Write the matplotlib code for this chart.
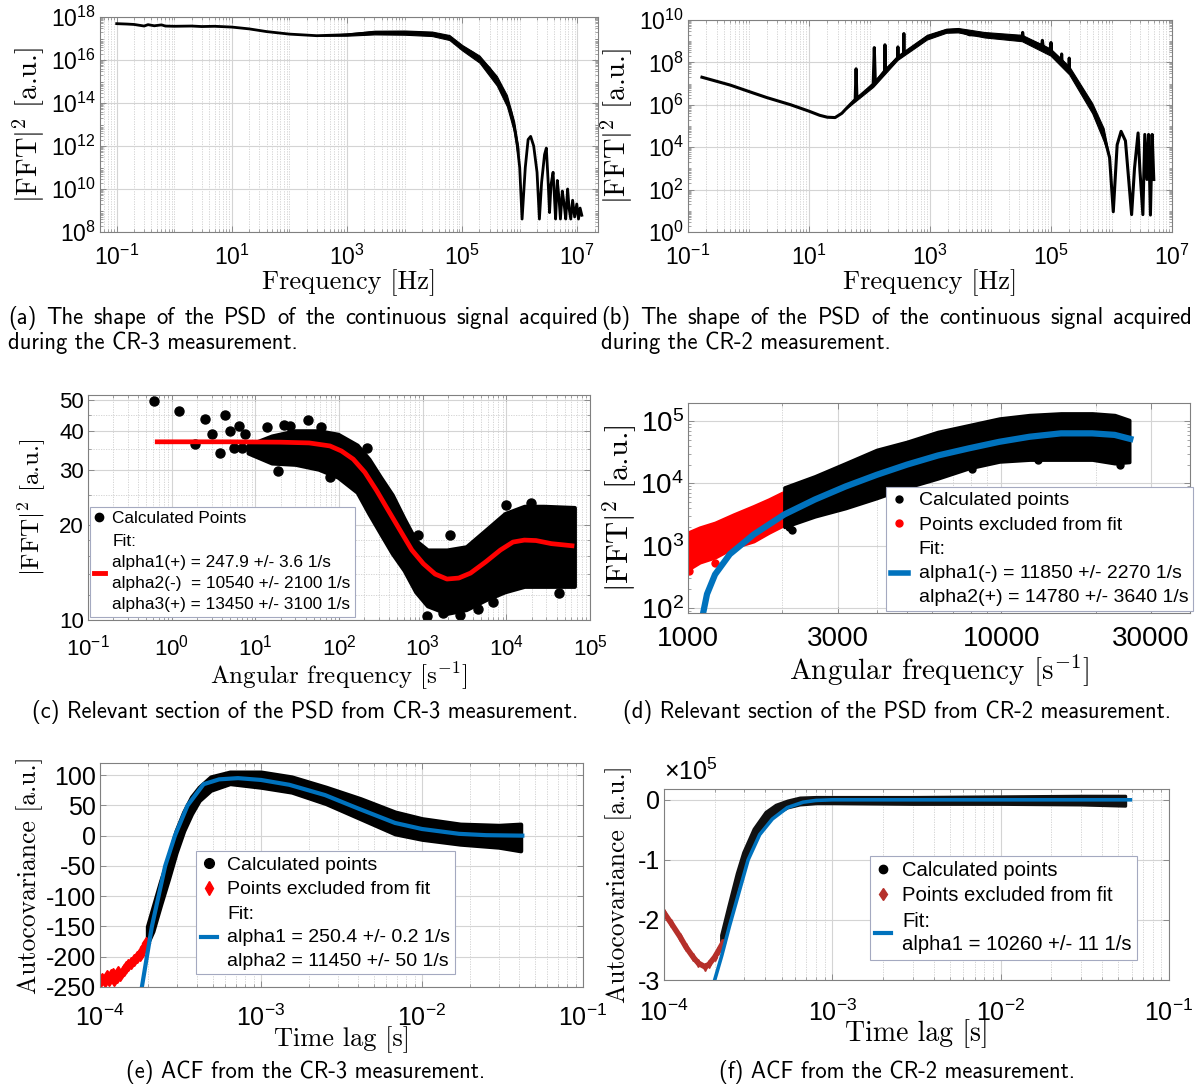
import numpy as np
import matplotlib
matplotlib.use("Agg")
import matplotlib.pyplot as plt
from matplotlib.lines import Line2D
from matplotlib.ticker import FixedLocator, FuncFormatter, LogLocator, NullFormatter, MultipleLocator

# ---------------------------------------------------------------- data
# (a) PSD of the continuous CR-3 signal
psd_a_freq = [0.1, 0.15, 0.2, 0.3, 0.35, 0.45, 0.6, 0.7, 1, 2,
              3, 5, 10, 20, 40, 100, 300, 1000, 3000, 1e4,
              3e4, 6e4, 1e5, 1.5e5, 2e5, 3e5, 4e5, 5e5, 6e5, 7e5,
              8e5, 9e5, 1e6, 1.1e6, 1.25e6, 1.4e6, 1.55e6, 1.75e6, 2.0e6, 2.2e6,
              2.4e6, 2.7e6, 2.9e6, 3.1e6, 3.3e6, 3.5e6, 3.8e6, 4.0e6, 4.2e6, 4.5e6,
              4.8e6, 5.1e6, 5.5e6, 5.9e6, 6.3e6, 6.8e6, 7.2e6, 7.7e6, 8.3e6, 9e6,
              9.8e6, 1.05e7, 1.12e7, 1.2e7]
psd_a_val = [4.9e17, 4.7e17, 4.5e17, 3.8e17, 4.4e17, 3.9e17, 4.3e17, 3.8e17, 3.7e17, 3.8e17,
             3.6e17, 3.7e17, 3.4e17, 2.8e17, 2.1e17, 1.6e17, 1.35e17, 1.5e17, 1.9e17, 1.9e17,
             1.65e17, 1.1e17, 3.8e16, 2.2e16, 1.1e16, 4e15, 1.1e15, 3.5e14, 1.3e14, 4e13,
             8e12, 1.3e12, 1e11, 4e8, 1e11, 2e12, 2.8e12, 1e12, 6e10, 4e8,
             2e10, 4e11, 8e11, 3e10, 8e8, 1.6e10, 6e10, 5e9, 4e8, 2.5e10,
             4e9, 4e8, 8e9, 2e9, 4e8, 1e10, 1.3e9, 4e8, 3e9, 5e8,
             2e9, 4e8, 1.3e9, 6e8]
psd_a_band_freq = [300, 1e3, 3e3, 1e4, 3e4, 6e4, 1e5, 2e5, 4e5, 6e5, 8e5, 9.5e5]
psd_a_band_lo = [1.35e17, 1.35e17, 1.55e17, 1.5e17, 1.3e17, 8.5e16, 2.8e16, 7.5e15, 6.5e14, 7e13, 4.5e12, 2e11]
psd_a_band_hi = [1.35e17, 1.7e17, 2.3e17, 2.35e17, 2.1e17, 1.45e17, 5e16, 1.6e16, 1.8e15, 2.3e14, 1.4e13, 8e11]

# (b) PSD of the continuous CR-2 signal
psd_b_freq = [0.17, 0.5, 1.2, 2, 5, 10, 15, 20, 27, 35,
              41, 58, 60, 62, 115, 120, 125, 178, 180, 183,
              240, 290, 295, 300, 365, 370, 375, 890, 1860, 2900,
              4500, 8000, 16600, 33000, 34000, 35000, 70000, 72000, 74000, 98000,
              1e5, 1.02e5, 1.48e5, 1.5e5, 1.52e5, 1.98e5, 2e5, 2.02e5, 3.1e5, 4.8e5,
              7.4e5, 9.3e5, 1.07e6, 1.24e6, 1.44e6, 1.7e6, 2.15e6, 2.4e6, 2.75e6, 2.95e6,
              3.3e6, 3.55e6, 3.85e6, 4.1e6, 4.4e6, 4.7e6, 5e6]
psd_b_val = [2.0e7, 8.5e6, 3.6e6, 2.2e6, 1.0e6, 5e5, 3.2e5, 2.6e5, 2.5e5, 4e5,
             6.5e5, 1.8e6, 5e7, 2e6, 9e6, 5e8, 1.1e7, 4e7, 6.8e8, 4.2e7,
             9e7, 1.6e8, 5.4e8, 1.7e8, 2.4e8, 2.3e9, 2.6e8, 1.5e9, 3.1e9, 3.3e9,
             2e9, 2e9, 1.8e9, 1.4e9, 2.6e9, 1.4e9, 6.2e8, 1.1e9, 6e8, 3.1e8,
             8.7e8, 3e8, 1.25e8, 2.5e8, 1.2e8, 4.2e7, 1.6e8, 4e7, 6.3e6, 7e5,
             4e4, 3.2e3, 9, 1.3e4, 5.6e4, 2e4, 6.6, 1e3, 4.7e4, 8e2,
             6.6, 4e4, 3e2, 4e4, 6.3, 4e4, 3e2]
psd_b_band_freq = [41, 115, 290, 890, 1860, 2900, 8000, 33000, 98000, 2e5, 4.8e5, 7.4e5, 9.3e5]
psd_b_band_lo = [6.5e5, 7e6, 1.3e8, 1.2e9, 2.5e9, 2.6e9, 1.5e9, 1.0e9, 2.1e8, 2.7e7, 4e5, 2e4, 3.2e3]
psd_b_band_hi = [6.5e5, 1.2e7, 2.1e8, 2.0e9, 3.9e9, 4.2e9, 2.7e9, 2.0e9, 4.5e8, 6.5e7, 1.2e6, 8e4, 3.2e3]

# (c) CR-3 PSD section: spread of calculated points, isolated points, fit
c_band_w = [8.2, 15.7, 30, 57, 97, 165, 228, 312, 433, 600, 825, 1140, 1950, 3320, 5650, 9600, 16400, 28000, 65000]
c_band_lo = [34, 31.6, 31.3, 30.2, 28.5, 25.5, 21.8, 18.9, 16.3, 14.4, 12.3, 11.1, 10.5, 10.8, 11.6, 12.3, 12.8, 12.8, 12.8]
c_band_hi = [36, 38.5, 40, 40, 39, 36, 32.5, 28.5, 25, 21, 17.9, 16.7, 16.7, 17.1, 19.3, 21.8, 23, 23, 22.8]
c_pts_w = [0.62, 1.24, 2.48, 4.33, 3.07, 5.0, 6.3, 7.6, 1.88, 3.78, 5.55, 6.98, 13.8, 18.6, 22, 26,
           43, 61, 77, 216, 870, 2150, 1140, 1750, 2800, 4600, 7000, 10000, 19500, 43000]
c_pts_v = [49.6, 46.1, 43.6, 44.8, 39.1, 39.9, 41.4, 39.0, 36.4, 33.9, 35.2, 35.3, 41.1, 29.9, 41.8, 41.4,
           43.3, 41.2, 28.5, 35.3, 18.7, 18.7, 10.3, 10.5, 10.4, 10.8, 11.4, 23.2, 23.5, 12.2]
c_fit_w = [0.63, 5, 20, 44, 78, 107, 148, 204, 282, 389, 537, 742, 1020, 1410, 1950, 2700,
           3730, 5650, 8500, 12000, 16400, 22600, 34500, 65000]
c_fit_v = [36.9, 36.9, 36.8, 36.6, 35.8, 34.5, 32.5, 29.5, 25.8, 22.3, 19.3, 16.7, 15.1, 14.0, 13.5, 13.6,
           14.1, 15.3, 16.7, 17.7, 17.96, 17.9, 17.5, 17.2]

# (d) CR-2 PSD section
d_black_w = [2030, 2540, 3180, 4000, 5000, 6270, 7880, 9860, 12300, 15500, 19500, 23000, 25600]
d_black_lo = [2000, 2950, 4000, 5800, 8600, 12000, 17500, 22400, 24000, 24000, 24000, 21000, 22000]
d_black_hi = [8600, 13000, 21000, 34500, 46500, 67000, 86000, 110000, 125000, 133000, 133000, 125000, 104000]
d_black_pts_w = [2096, 2150, 8080, 13100, 24000]
d_black_pts_v = [2000, 1800, 17000, 24000, 20000]
d_red_w = [1000, 1090, 1220, 1400, 1620, 1810, 2040]
d_red_lo = [415, 540, 650, 940, 1180, 1620, 2200]
d_red_hi = [1620, 1950, 2330, 3170, 4300, 5500, 7400]
d_red_pts_w = [1005, 1220]
d_red_pts_v = [390, 535]
d_fit_w = [1110, 1150, 1220, 1360, 1620, 2030, 2540, 3180, 4000, 5000, 6270, 7880, 9860,
           12300, 15500, 19500, 23000, 25800]
d_fit_v = [70, 167, 345, 730, 1510, 3170, 5500, 8900, 13700, 20000, 28000, 36500, 46500,
           56000, 63500, 63500, 60000, 51700]

# (e) ACF from CR-3
e_black_t = [1.97e-4, 2.13e-4, 2.38e-4, 2.66e-4, 2.97e-4, 3.31e-4, 3.70e-4, 4.13e-4, 4.87e-4, 6.41e-4,
             1e-3, 1.55e-3, 2.53e-3, 4.15e-3, 6.8e-3, 1e-2, 1.73e-2, 3e-2, 4.1e-2]
e_black_lo = [-178, -158, -114, -72, -28, 8, 36, 58, 75, 86, 80, 72, 53, 28, 3, -6, -14, -19, -25]
e_black_hi = [-150, -119, -75, -36, 8, 39, 64, 80, 97, 105, 105, 97, 80, 61, 39, 28, 19, 17, 19]
e_red_t = [1.0e-4, 1.03e-4, 1.07e-4, 1.1e-4, 1.14e-4, 1.17e-4, 1.2e-4, 1.23e-4, 1.27e-4, 1.3e-4,
           1.34e-4, 1.4e-4, 1.45e-4, 1.5e-4, 1.56e-4, 1.62e-4, 1.7e-4, 1.76e-4, 1.81e-4, 1.87e-4, 1.93e-4]
e_red_v = [-242, -236, -240, -232, -238, -231, -228, -239, -233, -226,
           -231, -222, -217, -214, -210, -206, -200, -197, -192, -184, -178]
e_fit_t = [1.82e-4, 2.1e-4, 2.54e-4, 2.92e-4, 3.5e-4, 4.4e-4, 5.5e-4, 7.2e-4, 1e-3, 1.5e-3,
           2.5e-3, 4e-3, 6.8e-3, 1e-2, 1.7e-2, 2.5e-2, 4.2e-2]
e_fit_v = [-250, -150, -50, 0, 50, 85, 93, 95, 92, 84, 67, 45, 21, 11, 3, 0.8, 0]

# (f) ACF from CR-2
f_black_t = [2.18e-4, 2.4e-4, 2.7e-4, 2.95e-4, 3.4e-4, 4.0e-4, 4.6e-4, 5.4e-4, 6.4e-4, 8e-4,
             1e-3, 3e-3, 1e-2, 3e-2, 5.5e-2]
f_black_lo = [-2.5e5, -2.03e5, -1.48e5, -1.13e5, -7.2e4, -4.0e4, -2.4e4, -1.3e4, -8e3, -6e3,
              -6e3, -7e3, -7e3, -8e3, -1e4]
f_black_hi = [-2.25e5, -1.78e5, -1.22e5, -8.7e4, -4.8e4, -2.0e4, -8e3, -1e3, 4e3, 5e3,
              5e3, 5e3, 6e3, 7e3, 7e3]
f_red_t = [1.0e-4, 1.1e-4, 1.245e-4, 1.35e-4, 1.49e-4, 1.6e-4, 1.75e-4, 1.85e-4, 2.0e-4, 2.1e-4, 2.24e-4]
f_red_v = [-1.88e5, -2.05e5, -2.28e5, -2.45e5, -2.62e5, -2.72e5, -2.78e5, -2.74e5, -2.62e5, -2.52e5, -2.38e5]
f_fit_t = [2.0e-4, 2.2e-4, 2.45e-4, 2.75e-4, 3.16e-4, 3.7e-4, 4.4e-4, 5.4e-4, 6.7e-4, 8e-4, 1e-3, 5.9e-2]
f_fit_v = [-3.0e5, -2.6e5, -2.1e5, -1.6e5, -1.0e5, -5.8e4, -3.2e4, -1.3e4, -4e3, -1e3, 0, 0]

# legend texts
c_fit_label = ("Fit:\nalpha1(+) = 247.9 +/- 3.6 1/s\n"
               "alpha2(-)  = 10540 +/- 2100 1/s\nalpha3(+) = 13450 +/- 3100 1/s")
d_fit_label = "Fit:\nalpha1(-) = 11850 +/- 2270 1/s\nalpha2(+) = 14780 +/- 3640 1/s"
e_fit_label = "Fit:\nalpha1 = 250.4 +/- 0.2 1/s\nalpha2 = 11450 +/- 50 1/s"
f_fit_label = "Fit:\nalpha1 = 10260 +/- 11 1/s"

captions = {
    "a1": "(a) The shape of the PSD of the continuous signal acquired",
    "a2": "during the CR-3 measurement.",
    "b1": "(b) The shape of the PSD of the continuous signal acquired",
    "b2": "during the CR-2 measurement.",
    "c": "(c) Relevant section of the PSD from CR-3 measurement.",
    "d": "(d) Relevant section of the PSD from CR-2 measurement.",
    "e": "(e) ACF from the CR-3 measurement.",
    "f": "(f) ACF from the CR-2 measurement.",
}

# ---------------------------------------------------------------- style
plt.rcParams.update({
    "font.family": "Liberation Sans",
    "mathtext.fontset": "custom",
    "mathtext.rm": "Liberation Sans",
    "mathtext.it": "Liberation Sans:italic",
    "mathtext.bf": "Liberation Sans:bold",
    "axes.unicode_minus": False,
})

BLUE = "#0072BD"
RED = "#FF0000"
DARKRED = "#B5302B"
FRAME = "#808080"

W, H = 1203, 1089
fig = plt.figure(figsize=(W / 100, H / 100), dpi=100)


def add_ax(left, top, right, bottom):
    return fig.add_axes([left / W, 1 - bottom / H, (right - left) / W, (bottom - top) / H])


def pow10(v, pos=None):
    return r"$\mathdefault{10^{%d}}$" % int(round(np.log10(v)))


def style(ax, fs, xpad):
    ax.tick_params(which="both", direction="in", top=True, right=True,
                   color=FRAME, labelcolor="black", labelsize=fs)
    ax.tick_params(which="major", length=4, width=0.6)
    ax.tick_params(which="minor", length=2, width=0.5)
    ax.tick_params(axis="x", which="major", pad=xpad)
    ax.tick_params(axis="y", which="major", pad=3)
    for s in ax.spines.values():
        s.set_color(FRAME)
        s.set_linewidth(0.8)
    ax.set_axisbelow(True)


def grids(ax, minor_axis="x"):
    ax.grid(True, which="major", color="#d4d4d4", lw=0.8)
    if minor_axis:
        ax.grid(True, which="minor", axis=minor_axis, color="#cfcfcf", lw=0.6, ls=(0, (1.5, 1.5)))


def log_minor(axis):
    axis.set_minor_locator(LogLocator(base=10, subs=np.arange(1, 10), numticks=100))
    axis.set_minor_formatter(NullFormatter())


def legend(ax, handles, labels, fs, anchor, hl, linesp, labsp, tpad=0.55):
    leg = ax.legend(handles, labels, loc="upper left", bbox_to_anchor=anchor,
                    fontsize=fs, frameon=True, fancybox=False, framealpha=1,
                    edgecolor="#a4a9c0", borderpad=0.25, labelspacing=labsp,
                    handlelength=hl, handletextpad=tpad, borderaxespad=0)
    leg.get_frame().set_linewidth(0.8)
    for t in leg.get_texts():
        t.set_linespacing(linesp)
    return leg


# axis titles: Computer Modern roman, math parts in the cm math set
LBL = dict(fontfamily="cmr10", math_fontfamily="cm")
FFT_LABEL = r"$|\mathrm{FFT}|^{2}$ [a.u.]"
FREQ_LABEL = "Frequency [Hz]"
ANG_LABEL = r"Angular frequency [s$^{-1}$]"
LAG_LABEL = "Time lag [s]"
ACF_LABEL = "Autocovariance [a.u.]"

# ---------------------------------------------------------------- (a)
ax = add_ax(100, 17, 598, 232)
ax.fill_between(psd_a_band_freq, psd_a_band_lo, psd_a_band_hi, color="k", lw=0.8, ec="k")
ax.plot(psd_a_freq, psd_a_val, color="k", lw=2.0)
ax.set_xscale("log"); ax.set_yscale("log")
ax.set_xlim(10 ** -1.29, 10 ** 7.36)
ax.set_ylim(1e8, 1e18)
ax.xaxis.set_major_locator(FixedLocator([1e-1, 1e1, 1e3, 1e5, 1e7]))
ax.xaxis.set_major_formatter(FuncFormatter(pow10))
ax.yaxis.set_major_locator(FixedLocator([1e8, 1e10, 1e12, 1e14, 1e16, 1e18]))
ax.yaxis.set_major_formatter(FuncFormatter(pow10))
log_minor(ax.xaxis); log_minor(ax.yaxis)
style(ax, 16.5, 9.5); grids(ax, "x")
ax.set_xlabel(FREQ_LABEL, fontsize=19, labelpad=-1, **LBL)
ax.set_ylabel(FFT_LABEL, fontsize=20.5, labelpad=3, **LBL)

# ---------------------------------------------------------------- (b)
ax = add_ax(688, 20, 1172, 232)
ax.fill_between(psd_b_band_freq, psd_b_band_lo, psd_b_band_hi, color="k", lw=0.8, ec="k")
ax.plot(psd_b_freq, psd_b_val, color="k", lw=2.2)
ax.set_xscale("log"); ax.set_yscale("log")
ax.set_xlim(1e-1, 1e7)
ax.set_ylim(1e0, 1e10)
ax.xaxis.set_major_locator(FixedLocator([1e-1, 1e1, 1e3, 1e5, 1e7]))
ax.xaxis.set_major_formatter(FuncFormatter(pow10))
ax.yaxis.set_major_locator(FixedLocator([1e0, 1e2, 1e4, 1e6, 1e8, 1e10]))
ax.yaxis.set_major_formatter(FuncFormatter(pow10))
log_minor(ax.xaxis); log_minor(ax.yaxis)
style(ax, 16.5, 9.5); grids(ax, "x")
ax.set_xlabel(FREQ_LABEL, fontsize=19, labelpad=-1, **LBL)
ax.set_ylabel(FFT_LABEL, fontsize=20.5, labelpad=3, **LBL)

# ---------------------------------------------------------------- (c)
ax = add_ax(88, 395, 590, 620)
ax.fill_between(c_band_w, c_band_lo, c_band_hi, color="k", lw=3, ec="k")
ax.plot(c_pts_w, c_pts_v, ls="none", marker="o", color="k", ms=6.5)
ax.plot(c_fit_w, c_fit_v, color=RED, lw=3.4, solid_capstyle="butt")
ax.set_xscale("log"); ax.set_yscale("log")
ax.set_xlim(1e-1, 1e5)
ax.set_ylim(10, 52)
ax.xaxis.set_major_locator(FixedLocator([1e-1, 1e0, 1e1, 1e2, 1e3, 1e4, 1e5]))
ax.xaxis.set_major_formatter(FuncFormatter(pow10))
log_minor(ax.xaxis)
ax.yaxis.set_major_locator(FixedLocator([10, 20, 30, 40, 50]))
ax.yaxis.set_major_formatter(FuncFormatter(lambda v, p: "%d" % v))
ax.yaxis.set_minor_locator(FixedLocator([12, 14, 16, 18, 25, 35, 45]))
ax.yaxis.set_minor_formatter(NullFormatter())
style(ax, 16, 10.5); grids(ax, "both")
ax.set_xlabel(ANG_LABEL, fontsize=18, labelpad=0, **LBL)
ax.set_ylabel(FFT_LABEL, fontsize=18, labelpad=8, **LBL)
h_pts = Line2D([], [], ls="none", marker="o", color="k", ms=6)
h_fit = Line2D([], [], color=RED, lw=3.5)
legend(ax, [h_pts, h_fit], ["Calculated Points", c_fit_label], 12.4, (0.004, 0.503), 0.6,
       1.5, 0.47, tpad=0.45)

# ---------------------------------------------------------------- (d)
ax = add_ax(688, 403, 1190, 613)
ax.fill_between(d_red_w, d_red_lo, d_red_hi, color=RED, lw=2.5, ec=RED)
ax.plot(d_red_pts_w, d_red_pts_v, ls="none", marker="o", color=RED, ms=5)
ax.fill_between(d_black_w, d_black_lo, d_black_hi, color="k", lw=2.5, ec="k")
ax.plot(d_black_pts_w, d_black_pts_v, ls="none", marker="o", color="k", ms=5)
ax.plot(d_fit_w, d_fit_v, color=BLUE, lw=4.5)
ax.set_xscale("log"); ax.set_yscale("log")
ax.set_xlim(1000, 40000)
ax.set_ylim(83, 1.95e5)
ax.xaxis.set_major_locator(FixedLocator([1000, 3000, 10000, 30000]))
ax.xaxis.set_major_formatter(FuncFormatter(lambda v, p: "%d" % v))
ax.xaxis.set_minor_locator(FixedLocator([2000, 4000, 5000, 6000, 7000, 8000, 9000, 20000, 40000]))
ax.xaxis.set_minor_formatter(NullFormatter())
ax.yaxis.set_major_locator(FixedLocator([1e2, 1e3, 1e4, 1e5]))
ax.yaxis.set_major_formatter(FuncFormatter(pow10))
log_minor(ax.yaxis)
style(ax, 20, 9.5); grids(ax, "x")
ax.set_xlabel(ANG_LABEL, fontsize=21, labelpad=0, **LBL)
ax.set_ylabel(FFT_LABEL, fontsize=22, labelpad=1, **LBL)
h_pts = Line2D([], [], ls="none", marker="o", color="k", ms=5)
h_red = Line2D([], [], ls="none", marker="o", color=RED, ms=5)
h_fit = Line2D([], [], color=BLUE, lw=4)
legend(ax, [h_pts, h_red, h_fit], ["Calculated points", "Points excluded from fit", d_fit_label],
       14, (0.394, 0.6), 0.9, 1.52, 0.37)

# ---------------------------------------------------------------- (e)
ax = add_ax(100, 763, 583, 987)
ax.plot(e_red_t, e_red_v, color=RED, lw=3, marker="d", ms=6, mec=RED)
ax.fill_between(e_black_t, e_black_lo, e_black_hi, color="k", lw=3, ec="k")
ax.plot(e_fit_t, e_fit_v, color=BLUE, lw=3)
ax.set_xscale("log")
ax.set_xlim(1e-4, 1e-1)
ax.set_ylim(-250, 120)
ax.xaxis.set_major_locator(FixedLocator([1e-4, 1e-3, 1e-2, 1e-1]))
ax.xaxis.set_major_formatter(FuncFormatter(pow10))
log_minor(ax.xaxis)
ax.yaxis.set_major_locator(MultipleLocator(50))
ax.yaxis.set_major_formatter(FuncFormatter(lambda v, p: "%d" % v))
style(ax, 18, 12.5); grids(ax, "x")
ax.set_xlabel(LAG_LABEL, fontsize=19, labelpad=-3, **LBL)
ax.set_ylabel(ACF_LABEL, fontsize=18.5, labelpad=2, **LBL)
h_pts = Line2D([], [], ls="none", marker="o", color="k", ms=7)
h_red = Line2D([], [], ls="none", marker="d", color=RED, ms=7)
h_fit = Line2D([], [], color=BLUE, lw=3)
legend(ax, [h_pts, h_red, h_fit], ["Calculated points", "Points excluded from fit", e_fit_label],
       14, (0.199, 0.607), 0.8, 1.5, 0.37)

# ---------------------------------------------------------------- (f)
ax = add_ax(664, 789, 1169, 980)
ax.plot(f_red_t, f_red_v, color=DARKRED, lw=4, marker="d", ms=4, mec=DARKRED)
ax.fill_between(f_black_t, f_black_lo, f_black_hi, color="#111111", lw=2, ec="#111111")
ax.plot(f_fit_t, f_fit_v, color=BLUE, lw=2.6)
ax.set_xscale("log")
ax.set_xlim(1e-4, 1e-1)
ax.set_ylim(-3e5, 0.18e5)
ax.xaxis.set_major_locator(FixedLocator([1e-4, 1e-3, 1e-2, 1e-1]))
ax.xaxis.set_major_formatter(FuncFormatter(pow10))
log_minor(ax.xaxis)
ax.yaxis.set_major_locator(MultipleLocator(1e5))
ax.yaxis.set_major_formatter(FuncFormatter(lambda v, p: "%d" % round(v / 1e5)))
style(ax, 18, 14); grids(ax, "x")
ax.text(0.0, 1.02, r"$\times\mathdefault{10^{5}}$", transform=ax.transAxes, fontsize=18,
        ha="left", va="bottom")
ax.set_xlabel(LAG_LABEL, fontsize=20, labelpad=-5, **LBL)
ax.set_ylabel(ACF_LABEL, fontsize=18.5, labelpad=4, **LBL)
h_pts = Line2D([], [], ls="none", marker="o", color="k", ms=6)
h_red = Line2D([], [], ls="none", marker="d", color=DARKRED, ms=6)
h_fit = Line2D([], [], color=BLUE, lw=3)
legend(ax, [h_pts, h_red, h_fit], ["Calculated points", "Points excluded from fit", f_fit_label],
       14.6, (0.408, 0.649), 0.8, 1.32, 0.31)

# ---------------------------------------------------------------- captions
CAP = dict(fontfamily="cmss10", fontsize=16.3, va="center")
renderer = fig.canvas.get_renderer()


def justified(x0, x1, y, text):
    """Spread the words of one caption line evenly between x0 and x1 (pixels)."""
    words = text.split(" ")
    objs = [fig.text(0, 1 - y / H, w, ha="left", **CAP) for w in words]
    widths = [o.get_window_extent(renderer).width for o in objs]
    gap = (x1 - x0 - sum(widths)) / (len(words) - 1)
    x = x0
    for o, w in zip(objs, widths):
        o.set_x(x / W)
        x += w + gap


justified(8, 598, 318, captions["a1"])
fig.text(8 / W, 1 - 343 / H, captions["a2"], ha="left", **CAP)
justified(601, 1192, 318, captions["b1"])
fig.text(601 / W, 1 - 343 / H, captions["b2"], ha="left", **CAP)
fig.text(305 / W, 1 - 712 / H, captions["c"], ha="center", **CAP)
fig.text(897 / W, 1 - 712 / H, captions["d"], ha="center", **CAP)
fig.text(306 / W, 1 - 1072 / H, captions["e"], ha="center", **CAP)
fig.text(897 / W, 1 - 1072 / H, captions["f"], ha="center", **CAP)

fig.savefig("out.png", dpi=100)
